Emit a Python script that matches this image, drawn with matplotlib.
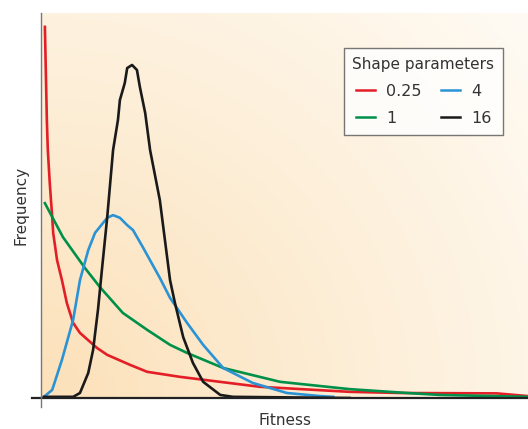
import numpy as np
import matplotlib.pyplot as plt
from matplotlib.colors import LinearSegmentedColormap

plt.rcParams['font.family'] = ['DejaVu Sans']

# gamma-shaped fitness distributions
labels = ['0.25', '1', '4', '16']
colors = ['#e31e26', '#00904a', '#2a93d5', '#1a1a1a']

x_025 = [0.08, 0.12, 0.14, 0.18, 0.23, 0.25, 0.33, 0.43, 0.53, 0.66, 0.80, 1.15, 1.36,
         1.83, 2.18, 2.85, 4.50, 6.34, 7.37, 9.36, 10.0]
y_025 = [9.64, 7.22, 6.44, 5.58, 4.70, 4.29, 3.58, 3.06, 2.47, 1.95, 1.69, 1.30, 1.12,
         0.86, 0.68, 0.55, 0.29, 0.16, 0.13, 0.12, 0.05]

x_1 = [0.08, 0.45, 0.90, 1.21, 1.68, 2.18, 2.65, 3.00, 3.74, 4.91, 6.34, 7.52, 8.19, 10.0]
y_1 = [5.06, 4.18, 3.38, 2.88, 2.21, 1.77, 1.38, 1.17, 0.78, 0.42, 0.23, 0.13, 0.08, 0.03]

x_4 = [0.06, 0.23, 0.43, 0.66, 0.80, 0.97, 1.11, 1.36, 1.48, 1.62, 1.77, 1.89, 2.09,
       2.44, 2.65, 3.00, 3.33, 3.74, 4.35, 5.05, 5.73, 6.00]
y_4 = [0.03, 0.21, 0.99, 2.03, 3.06, 3.84, 4.29, 4.68, 4.75, 4.68, 4.49, 4.36, 3.92,
       3.12, 2.60, 1.95, 1.38, 0.78, 0.39, 0.13, 0.05, 0.03]

x_16 = [0.06, 0.66, 0.80, 0.97, 1.07, 1.17, 1.25, 1.36, 1.48, 1.58, 1.62, 1.72, 1.77,
        1.87, 1.97, 2.03, 2.14, 2.24, 2.44, 2.65, 2.75, 2.92, 3.12, 3.33, 3.68, 3.94, 6.34]
y_16 = [0.03, 0.03, 0.13, 0.65, 1.25, 2.29, 3.32, 4.70, 6.44, 7.22, 7.74, 8.18, 8.57,
        8.65, 8.52, 8.08, 7.40, 6.44, 5.14, 3.06, 2.47, 1.58, 0.91, 0.42, 0.08, 0.03, 0.00]

xs = [x_025, x_1, x_4, x_16]
ys = [y_025, y_1, y_4, y_16]

fig = plt.figure(figsize=(5.28, 4.29), dpi=100)
ax = fig.add_axes([41/528, 31/429, 487/528, 385/429])

# background gradient, orange bottom-left fading to near white top-right
u, v = np.meshgrid(np.linspace(0, 1, 200), np.linspace(0, 1, 200))
t = np.clip(np.sqrt((u * 0.9) ** 2 + (v * 0.75) ** 2) / 1.17, 0, 1)
cmap = LinearSegmentedColormap.from_list('bg', ['#fce1b9', '#fdeed7', '#fffbf4'])
ax.imshow(t, cmap=cmap, origin='lower', extent=[0, 1, 0, 1], transform=ax.transAxes,
          aspect='auto', zorder=0, vmin=0, vmax=1)

for x, y, c, lab in zip(xs, ys, colors, labels):
    ax.plot(x, y, color=c, lw=1.9, label=lab, zorder=3, solid_joinstyle='round')

ax.set_xlim(0, 10)
ax.set_ylim(0, 10)
for s in ax.spines.values():
    s.set_visible(False)
ax.set_xticks([])
ax.set_yticks([])

# axis lines, crossing slightly at the origin
ax.plot([-0.019, 1], [0, 0], transform=ax.transAxes, color='#222222', lw=1.6,
        clip_on=False, zorder=4)
ax.plot([0, 0], [-0.024, 1], transform=ax.transAxes, color='#777777', lw=1.0,
        clip_on=False, zorder=4)

ax.set_xlabel('Fitness', fontsize=11, color='#333333', labelpad=11)
ax.set_ylabel('Frequency', fontsize=11, color='#333333', labelpad=9)

leg = ax.legend(title='Shape parameters', ncol=2, loc='upper right',
                bbox_to_anchor=(0.949, 0.909), borderaxespad=0, fontsize=11.5,
                title_fontsize=11, frameon=True, fancybox=False, handlelength=1.2,
                handletextpad=0.7, columnspacing=1.2, labelspacing=0.75, borderpad=0.55)
leg.get_frame().set_edgecolor('#555555')
leg.get_frame().set_linewidth(1.0)
leg.get_frame().set_facecolor('white')
for line in leg.get_lines():
    line.set_linewidth(1.8)
for txt in leg.get_texts():
    txt.set_color('#333333')
leg.get_title().set_color('#333333')

fig.savefig('out.png', dpi=100)
